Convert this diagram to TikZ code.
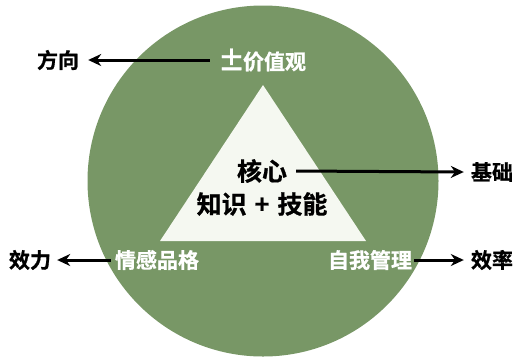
\documentclass[tikz,border=0pt]{standalone}
\usepackage{fontspec}
\newfontfamily\cjk{Noto Sans CJK SC}[UprightFont={* Bold}, UprightFeatures={FakeBold=0.8}]
\usetikzlibrary{arrows.meta}
\definecolor{gr}{RGB}{120,151,102}
\definecolor{tri}{RGB}{245,248,241}
\begin{document}
\begin{tikzpicture}[x=1pt,y=-1pt,
  lab/.style={font=\cjk\fontsize{21}{24}\selectfont, inner sep=0pt},
  core/.style={font=\cjk\fontsize{25}{28}\selectfont, inner sep=0pt},
  arr/.style={line width=3pt, -{Stealth[length=13pt,width=12pt]}}]
\useasboundingbox (0,0) rectangle (516,357);
\fill[gr] (263,181) circle (175.5);
\fill[tri] (263,85) -- (160,241) -- (366,241) -- cycle;
\node[lab, white] (val) at (262,60) {\raisebox{-1pt}{\fontsize{27}{27}\selectfont ±}\kern-2pt价值观};
\node[lab] (dir) at (58,60) {方向};
\node[core] (core) at (262,171) {核心};
\node[core] (ks) at (262,204) {知识\kern8pt+\kern8pt技能};
\node[lab] (base) at (492,172) {基础};
\node[lab, white] (emo) at (157,260) {情感品格};
\node[lab] (eff) at (30,260) {效力};
\node[lab, white] (self) at (370,260) {自我管理};
\node[lab] (rate) at (492,260) {效率};
\draw[arr] ([xshift=-8pt]val.west) -- ([xshift=9pt]dir.east);
\draw[arr] ([xshift=9pt]core.east) -- ([xshift=-7pt]base.west);
\draw[arr] ([xshift=-4pt]emo.west) -- ([xshift=6pt]eff.east);
\draw[arr] ([xshift=2pt]self.east) -- ([xshift=-7pt]rate.west);
\end{tikzpicture}
\end{document}
